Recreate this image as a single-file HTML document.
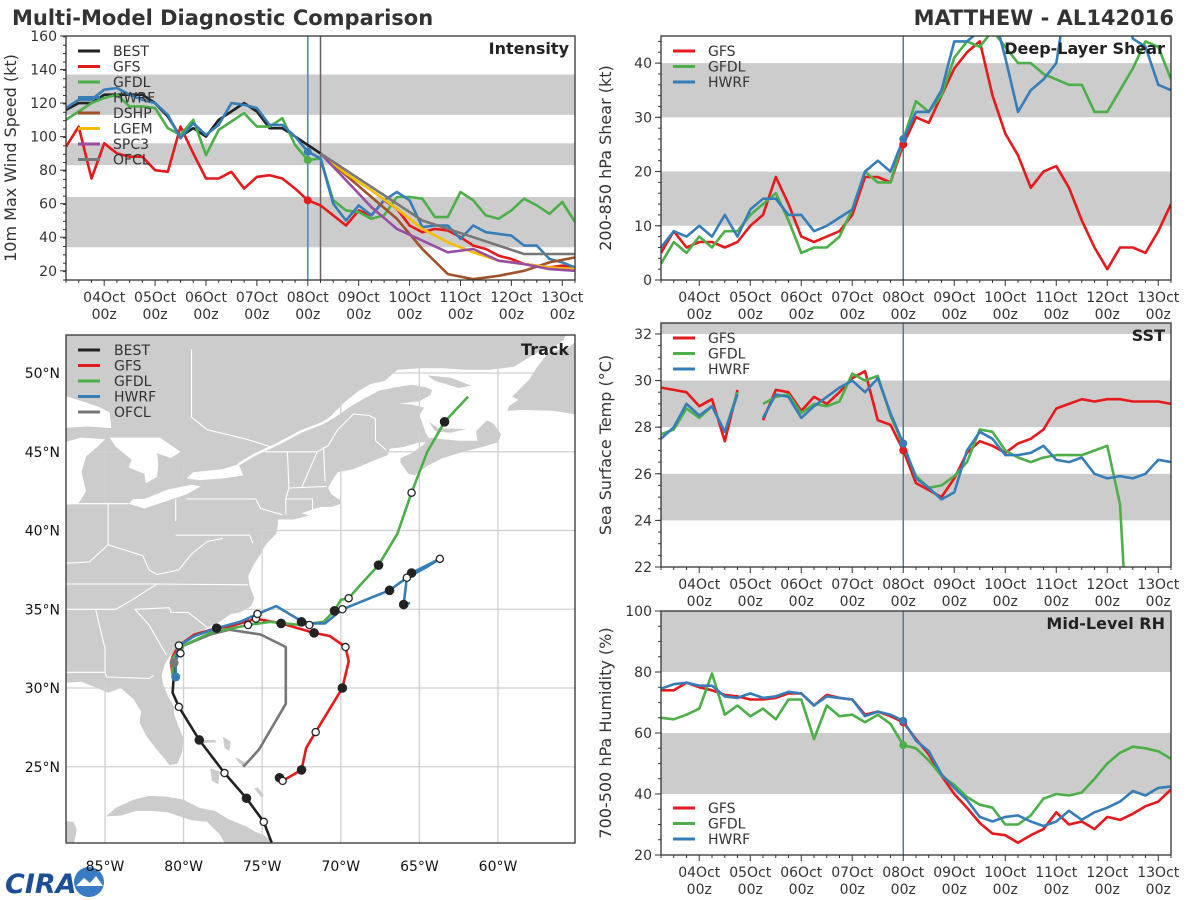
<!DOCTYPE html>
<html><head><meta charset="utf-8"><title>Multi-Model Diagnostic Comparison</title>
<style>
html,body{margin:0;padding:0;background:#fff;}
svg{display:block;font-family:"DejaVu Sans","Liberation Sans",sans-serif;}
</style></head>
<body>
<svg id="chart" width="1200" height="900" viewBox="0 0 1200 900" xmlns="http://www.w3.org/2000/svg">
<text x="12" y="25" font-size="21" font-weight="bold" fill="#333">Multi-Model Diagnostic Comparison</text>
<text x="1174" y="25" font-size="21" font-weight="bold" fill="#333" text-anchor="end">MATTHEW - AL142016</text>
<g>
<text x="5" y="893" font-size="27" font-weight="bold" font-style="italic" fill="#1d4f96">CIRA</text>
<circle cx="89" cy="882" r="15" fill="#3a7cc4"/>
<path d="M76 886 L84 878 L90 883 L96 876 L103 886 Z" fill="#fff"/>
</g>
</svg>
<script>
// ---------------- DATA ----------------
const dayLabels=['04Oct','05Oct','06Oct','07Oct','08Oct','09Oct','10Oct','11Oct','12Oct','13Oct'];
const intBest=[116,120,120,125,125,125,125,120,112,100,105,100,110,115,120,115,105,105,100,95,90];
const intGfs=[94,106,75,96,90,88,88,80,79,106,90,75,75,79,69,76,77,75,69,62,59,53,47,56,53,62,57,47,43,45,44,40,35,33,29,27,24,23,22,23,22];
const intGfdl=[110,115,120,123,125,118,118,117,105,101,110,89,104,109,114,106,106,111,95,86,87,62,56,55,51,53,64,64,63,52,52,67,62,53,51,56,63,59,54,61,49];
const intHwrf=[117,122,122,128,129,125,122,120,113,99,108,101,107,120,119,117,107,107,100,91,87,60,50,59,53,62,67,62,46,47,47,39,47,43,42,41,35,35,27,25,22];
const intDshp=[90,77,64,51,33,18,15,17,20,25,28];
const intLgem=[90,78,68,57,45,37,31,26,24,22,21];
const intSpc3=[90,74,58,45,38,31,33,26,24,21,20];
const intOfcl=[90,80,70,60,50,45,40,35,30,30,30];
const intBands=[[34,64],[83,96],[113,137]];
const intTicks=[20,40,60,80,100,120,140,160];

const shrGfs=[5,9,6,7,7,6,7,10,12,19,14,8,7,8,9,12,19,19,18,25,30,29,34,39,42,44,34,27,23,17,20,21,17,11,6,2,6,6,5,9,14];
const shrGfdl=[3,7,5,8,6,9,9,12,14,16,11,5,6,6,8,13,20,18,18,26,33,31,34,41,44,43,46,43,40,40,38,37,36,36,31,31,35,39,44,43,37];
const shrHwrf=[6,9,8,10,8,12,8,13,15,15,12,12,9,10,11.5,13,20,22,20,26,31,31,35,44,44,46,50,41,31,35,37,40,55,55,55,55,55,44.5,43,36,35];
const shrBands=[[10,20],[30,40]];
const shrTicks=[0,10,20,30,40];

const sstGfs=[29.7,29.6,29.5,28.9,29.2,27.4,29.6,null,28.3,29.6,29.5,28.7,29.3,29.0,29.5,30.1,30.4,28.3,28.1,27.0,25.6,25.3,25.0,25.8,26.9,27.4,27.2,26.9,27.3,27.5,27.9,28.8,29.0,29.2,29.1,29.2,29.2,29.1,29.1,29.1,29.0];
const sstGfdl=[27.7,27.9,28.8,28.4,28.9,27.8,29.5,null,29.0,29.3,29.4,28.6,29.0,28.9,29.1,30.3,30.0,30.2,28.5,27.2,25.9,25.4,25.5,25.9,26.5,27.9,27.8,27.0,26.7,26.5,26.7,26.8,26.8,26.8,27.0,27.2,24.7,15,null,null,null];
const sstHwrf=[27.5,28.0,29.0,28.5,28.9,27.8,29.4,null,28.4,29.4,29.3,28.4,28.9,29.3,29.7,30.0,29.5,30.1,28.6,27.3,25.8,25.4,24.9,25.2,27.0,27.8,27.5,26.8,26.8,26.9,27.2,26.6,26.5,26.7,26.0,25.8,25.9,25.8,26.0,26.6,26.5];
const sstBands=[[24,26],[28,30],[32,33]];
const sstTicks=[22,24,26,28,30,32];

const rhGfs=[74,74,76.5,75,74,72.5,72,71,71,71.5,73,73,69,72.5,71.5,71,66,67,65.5,63.5,58,53,46,40,35.5,30.5,27,26.5,24,26.5,28.5,34,30,31,28.5,32.5,31.5,33.5,36,37.5,41.5];
const rhGfdl=[65,64.5,66,68,79.5,66,69,65.5,68,64.5,71,71,58,69,65.5,66,63.5,66,63,56,55,51,46,43,39,36.5,35.5,30,30,33,38.5,40,39.5,40.5,45,50,53.5,55.5,55,54,51.5];
const rhHwrf=[74.5,76,76.5,75.5,75.5,72,71.5,73,71.5,72,73.5,73,69,72,71.5,71,65.5,67,66,64,57.5,54,46.5,42,38,32.5,31,32.5,33,31,29.5,31,34.5,31.5,34,35.5,37.5,41,39.5,42,42.5];
const rhBands=[[40,60],[80,100]];
const rhTicks=[20,40,60,80,100];

const trkBest=[[-74.4,20.2],[-74.9,21.5],[-76.0,23.0],[-77.4,24.6],[-79.0,26.7],[-80.3,28.8],[-80.7,29.7],[-80.65,30.4],[-80.6,31.6]];
const trkGfs=[[-74.1,24.5],[-73.9,24.3],[-73.7,24.1],[-72.5,24.8],[-72.2,26.2],[-71.6,27.2],[-69.9,30.0],[-69.5,31.7],[-69.7,32.6],[-70.7,33.3],[-71.7,33.5],[-73.8,34.1],[-75.4,34.4],[-77.1,33.9],[-77.9,33.8],[-79.3,33.4],[-80.3,32.7],[-80.7,32.0],[-80.8,31.6],[-80.7,30.9]];
const trkGfdl=[[-80.7,30.7],[-80.7,31.9],[-80.0,32.7],[-78.3,33.5],[-75.9,34.0],[-74.5,34.2],[-72.6,34.0],[-71.1,34.2],[-70.4,34.9],[-70.0,35.6],[-69.5,35.7],[-68.8,36.5],[-67.6,37.8],[-66.4,39.8],[-65.5,42.4],[-64.5,45.0],[-63.4,46.9],[-61.9,48.5]];
const trkHwrf=[[-80.5,30.7],[-80.5,31.8],[-80.3,32.7],[-79.3,33.3],[-77.9,33.8],[-76.4,34.2],[-75.3,34.7],[-74.1,35.2],[-72.6,34.3],[-71.9,34.1],[-71.0,34.1],[-69.9,35.0],[-66.9,36.2],[-65.8,37.0],[-65.5,37.3],[-64.3,37.9],[-63.7,38.2],[-64.5,37.7],[-65.8,37.0],[-66.0,35.3],[-65.6,35.4]];
const trkOfcl=[[-80.6,31.6],[-80.0,32.7],[-78.3,33.4],[-77.1,33.7],[-75.1,33.4],[-73.5,32.6],[-73.5,29.0],[-75.2,26.1],[-76.2,25.0]];
const trkFilled=[[-79.0,26.7],[-76.0,23.0],[-77.9,33.8],[-73.9,24.3],[-72.5,24.8],[-69.9,30.0],[-71.7,33.5],[-73.8,34.1],[-72.5,34.2],[-70.4,34.9],[-67.6,37.8],[-63.4,46.9],[-66.9,36.2],[-65.5,37.3],[-66.0,35.3]];
const trkOpen=[[-80.3,28.8],[-77.4,24.6],[-74.9,21.5],[-73.7,24.1],[-71.6,27.2],[-69.7,32.6],[-72.0,34.0],[-75.9,34.0],[-75.4,34.4],[-75.3,34.7],[-80.3,32.7],[-80.2,32.2],[-69.9,35.0],[-69.5,35.7],[-65.5,42.4],[-65.8,37.0],[-63.7,38.2]];
const lonTicks=[-85,-80,-75,-70,-65,-60];
const latTicks=[25,30,35,40,45,50];

// ---------------- HELPERS ----------------
const NS='http://www.w3.org/2000/svg';
const svg=document.getElementById('chart');
function mk(tag,attrs,parent){const e=document.createElementNS(NS,tag);for(const k in attrs)e.setAttribute(k,attrs[k]);(parent||svg).appendChild(e);return e;}
const C={GFS:'#e41a1c',GFDL:'#4daf4a',HWRF:'#377eb8',BEST:'#222222',DSHP:'#a0522d',LGEM:'#f5be00',SPC3:'#984ea3',OFCL:'#777777'};
let clipN=0;

function tsPanel(key,fr,ymin,ymax,bands,ticks,minorStep,ylabel,title,series,markers,legend,legendBottom,vlines){
  const g=mk('g',{});
  
  
  const X=i=>fr.x0+i/40*(fr.x1-fr.x0);
  const Y=v=>fr.y1-(v-ymin)/(ymax-ymin)*(fr.y1-fr.y0);
  const cid='clip'+(clipN++);
  const cp=mk('clipPath',{id:cid},g);
  mk('rect',{x:fr.x0,y:fr.y0,width:fr.x1-fr.x0,height:fr.y1-fr.y0},cp);
  bands.forEach(b=>{
    const top=Math.min(b[1],ymax);
    const r=mk('rect',{x:fr.x0,y:Y(top),width:fr.x1-fr.x0,height:Y(b[0])-Y(top),fill:'#cccccc'},g);
    
    
  });
  vlines.forEach(v=>{
    const l=mk('line',{x1:X(v.i),x2:X(v.i),y1:fr.y0,y2:fr.y1,stroke:v.c,'stroke-width':1.5},g);
    
    
  });
  const lg=mk('g',{'clip-path':'url(#'+cid+')'},g);
  series.forEach(s=>{
    let d='',pen=false;
    s.v.forEach((val,k)=>{
      if(val===null){pen=false;return;}
      const i=s.start+k*s.step;
      d+=(pen?'L':'M')+X(i).toFixed(1)+' '+Y(val).toFixed(1)+' ';pen=true;
    });
    const p=mk('path',{d:d,fill:'none',stroke:C[s.n],'stroke-width':2.6,'stroke-linejoin':'round'},lg);
    
    
  });
  markers.forEach(m=>{
    const c=mk('circle',{cx:X(19),cy:Y(m.v[19]),r:4,fill:C[m.n]},lg);
    
    
  });
  const fb=mk('rect',{x:fr.x0,y:fr.y0,width:fr.x1-fr.x0,height:fr.y1-fr.y0,fill:'none',stroke:'#333','stroke-width':1.3},g);
  
  
  for(let v=ymin;v<=ymax+1e-6;v+=minorStep){
    const mt=mk('line',{x1:fr.x0-3,x2:fr.x0,y1:Y(v),y2:Y(v),stroke:'#333','stroke-width':1},g);
    
    
  }
  ticks.forEach(v=>{
    const t=mk('line',{x1:fr.x0-6,x2:fr.x0,y1:Y(v),y2:Y(v),stroke:'#333','stroke-width':1},g);
    
    
    const tx=mk('text',{x:fr.x0-9,y:Y(v)+5,'font-size':14,'text-anchor':'end',fill:'#333'},g);
    tx.textContent=v;
    
    
  });
  for(let i=0;i<=40;i++){
    const major=(i-3)%4===0;
    const t=mk('line',{x1:X(i),x2:X(i),y1:fr.y1,y2:fr.y1+(major?6:3),stroke:'#333','stroke-width':1},g);
    
    
  }
  dayLabels.forEach((lab,k)=>{
    const i=3+4*k;
    const t1=mk('text',{x:X(i),y:fr.y1+22,'font-size':14,'text-anchor':'middle',fill:'#333'},g);
    t1.textContent=lab;
    
    
    const t2=mk('text',{x:X(i),y:fr.y1+39,'font-size':14,'text-anchor':'middle',fill:'#333'},g);
    t2.textContent='00z';
    
    
  });
  const yl=mk('text',{x:0,y:0,'font-size':16,'text-anchor':'middle',fill:'#333',transform:'translate('+(fr.x0-50)+','+((fr.y0+fr.y1)/2)+') rotate(-90)'},g);
  yl.textContent=ylabel;
  
  
  const tt=mk('text',{x:fr.x1-6,y:fr.y0+18,'font-size':16,'font-weight':'bold','text-anchor':'end',fill:'#222'},g);
  tt.textContent=title;
  
  
  legend.forEach((n,k)=>{
    const ly=legendBottom?(fr.y1-47+k*15.5):(fr.y0+15+k*15.5);
    const l=mk('line',{x1:fr.x0+12,x2:fr.x0+34,y1:ly,y2:ly,stroke:C[n],'stroke-width':3},g);
    
    
    const t=mk('text',{x:fr.x0+47,y:ly+5,'font-size':14,fill:'#333'},g);
    t.textContent=n;
    
    
  });
}

tsPanel('intensity',{x0:66,x1:575,y0:36,y1:280},14.5,160,intBands,intTicks,5,'10m Max Wind Speed (kt)','Intensity',
 [{n:'BEST',v:intBest,start:0,step:1},{n:'GFS',v:intGfs,start:0,step:1},{n:'GFDL',v:intGfdl,start:0,step:1},{n:'HWRF',v:intHwrf,start:0,step:1},
  {n:'DSHP',v:intDshp,start:20,step:2},{n:'LGEM',v:intLgem,start:20,step:2},{n:'SPC3',v:intSpc3,start:20,step:2},{n:'OFCL',v:intOfcl,start:20,step:2}],
 [{n:'GFS',v:intGfs},{n:'GFDL',v:intGfdl},{n:'HWRF',v:intHwrf}],
 ['BEST','GFS','GFDL','HWRF','DSHP','LGEM','SPC3','OFCL'],false,
 [{i:19,c:'#4a86b8'},{i:20,c:'#6d6060'}]);
tsPanel('shear',{x0:661,x1:1171,y0:36,y1:280},0,45,shrBands,shrTicks,2,'200-850 hPa Shear (kt)','Deep-Layer Shear',
 [{n:'GFS',v:shrGfs,start:0,step:1},{n:'GFDL',v:shrGfdl,start:0,step:1},{n:'HWRF',v:shrHwrf,start:0,step:1}],
 [{n:'GFS',v:shrGfs},{n:'HWRF',v:shrHwrf}],['GFS','GFDL','HWRF'],false,[{i:19,c:'#5a7890'}]);
tsPanel('sst',{x0:661,x1:1171,y0:323,y1:567},22,32.47,sstBands,sstTicks,0.5,'Sea Surface Temp (°C)','SST',
 [{n:'GFS',v:sstGfs,start:0,step:1},{n:'GFDL',v:sstGfdl,start:0,step:1},{n:'HWRF',v:sstHwrf,start:0,step:1}],
 [{n:'GFS',v:sstGfs},{n:'HWRF',v:sstHwrf}],['GFS','GFDL','HWRF'],false,[{i:19,c:'#5a7890'}]);
tsPanel('rh',{x0:661,x1:1171,y0:611,y1:855},20,100,rhBands,rhTicks,5,'700-500 hPa Humidity (%)','Mid-Level RH',
 [{n:'GFS',v:rhGfs,start:0,step:1},{n:'GFDL',v:rhGfdl,start:0,step:1},{n:'HWRF',v:rhHwrf,start:0,step:1}],
 [{n:'GFS',v:rhGfs},{n:'GFDL',v:rhGfdl},{n:'HWRF',v:rhHwrf}],['GFS','GFDL','HWRF'],true,[{i:19,c:'#5a7890'}]);

// ---------------- TRACK MAP ----------------
(function(){
  const fr={x0:66,x1:575,y0:335,y1:843};
  const LX=lon=>105+(lon+85)*15.72;
  const LY=lat=>373+(50-lat)*15.75;
  const g=mk('g',{});
  
  
  const cp=mk('clipPath',{id:'trkclip'},g);
  mk('rect',{x:fr.x0,y:fr.y0,width:fr.x1-fr.x0,height:fr.y1-fr.y0},cp);
  const m=mk('g',{'clip-path':'url(#trkclip)'},g);
  const bg=mk('rect',{x:fr.x0,y:fr.y0,width:fr.x1-fr.x0,height:fr.y1-fr.y0,fill:'#cccccc'},m);
  
  
  const P=pts=>pts.map((p,k)=>(k?'L':'M')+LX(p[0]).toFixed(1)+' '+LY(p[1]).toFixed(1)).join(' ');
  const oceans=[
   [[-88,30.3],[-86.5,30.4],[-85.5,30.0],[-84.8,29.7],[-84.0,30.0],[-83.2,29.3],[-82.7,28.5],[-82.8,27.8],[-82.4,27.0],[-81.8,26.2],[-81.2,25.5],[-80.9,25.1],[-80.4,25.2],[-80.1,25.9],[-80.0,26.8],[-80.3,27.5],[-80.6,28.3],[-80.6,28.8],[-81.0,29.5],[-81.3,30.2],[-81.4,30.8],[-81.2,31.5],[-80.9,32.0],[-80.4,32.5],[-79.6,33.0],[-79.0,33.5],[-78.4,33.9],[-77.7,34.2],[-77.0,34.7],[-76.4,34.8],[-75.7,35.2],[-75.5,35.7],[-75.8,36.5],[-75.9,37.1],[-75.5,37.9],[-75.1,38.5],[-74.9,38.9],[-74.6,39.3],[-74.1,39.8],[-74.0,40.4],[-74.0,40.7],[-73.0,40.7],[-72.0,40.95],[-72.5,41.1],[-71.9,41.3],[-71.3,41.5],[-70.6,41.5],[-70.0,41.7],[-70.0,41.9],[-70.6,42.3],[-70.8,42.7],[-70.6,43.1],[-70.2,43.7],[-69.2,43.9],[-68.0,44.4],[-67.0,44.8],[-66.9,45.2],[-66.0,45.3],[-65.0,45.6],[-54,45.6],[-54,19],[-88,19]],
   [[-64.3,45.7],[-64.6,46.2],[-64.8,46.8],[-65.0,47.3],[-64.7,47.8],[-65.5,48.0],[-66.3,48.05],[-65.0,48.2],[-64.3,48.6],[-64.2,48.9],[-64.6,49.1],[-65.5,49.25],[-66.5,49.1],[-67.5,48.9],[-68.5,48.4],[-69.5,47.8],[-70.5,47.1],[-71.2,46.8],[-70.6,47.3],[-69.7,48.2],[-68.8,48.9],[-68.1,49.3],[-67.2,49.5],[-66.4,50.2],[-65,50.3],[-63.5,50.3],[-62,50.2],[-60.5,50.2],[-59,50.4],[-57.5,51.3],[-56.5,51.6],[-55.8,52.1],[-55.5,53],[-54,53],[-54,45.4],[-64.3,45.4]]];
  oceans.forEach(o=>{
    const op=mk('path',{d:P(o)+' Z',fill:'#fff'},m);
    
    
  });
  lonTicks.forEach(lon=>{
    const l=mk('line',{x1:LX(lon),x2:LX(lon),y1:fr.y0,y2:fr.y1,stroke:'#d0d0d0','stroke-width':1.3},m);
    
    
  });
  latTicks.forEach(lat=>{
    const l=mk('line',{x1:fr.x0,x2:fr.x1,y1:LY(lat),y2:LY(lat),stroke:'#d0d0d0','stroke-width':1.3},m);
    
    
  });
  const landOverlays=[
   [[-88,53],[-55.6,53],[-57.6,51.2],[-59,50.5],[-62,50.3],[-65,50.4],[-66.5,50.3],[-67.3,49.6],[-68.2,49.4],[-68.9,49.0],[-69.8,48.3],[-70.7,47.4],[-71.5,46.9],[-74,45.6],[-76.5,44.4],[-79.5,43.8],[-81,45.2],[-84,46.7],[-88,46.7]],
   [[-88,30.6],[-86,30.6],[-84.5,30.3],[-83.4,29.8],[-82.0,30.5],[-81.6,31.2],[-81.4,31.7],[-80.9,32.4],[-79.8,33.2],[-78.6,34.1],[-77.3,34.9],[-76.4,35.3],[-76.3,36.3],[-76.5,37.4],[-76.6,38.5],[-75.8,39.6],[-75.0,40.2],[-74.3,40.9],[-72.5,41.4],[-71.5,41.8],[-71.1,42.4],[-71.0,43.0],[-70.5,43.8],[-69.0,44.4],[-67.5,45.0],[-66.6,45.5],[-65.5,46.0],[-65.3,46.8],[-65.5,47.6],[-66.6,47.9],[-68.4,48.2],[-69.4,47.6],[-70.4,46.9],[-72.5,46.0],[-74.5,45.1],[-76.3,44.0],[-79.5,43.6],[-82.3,42.4],[-83.5,41.4],[-88,41.4]]];
  landOverlays.forEach(o=>{
    const lp=mk('path',{d:P(o)+' Z',fill:'#cccccc'},m);
    
    
  });
  const islands=[
   [[-66.2,44.3],[-65.7,43.6],[-65.3,43.5],[-64.5,44.1],[-63.5,44.6],[-62.2,45.0],[-61.0,45.3],[-60.0,45.6],[-59.8,46.1],[-60.3,46.8],[-60.7,47.0],[-61.4,46.3],[-61.3,45.7],[-62.5,45.7],[-63.5,45.8],[-64.3,45.9],[-64.8,45.4],[-65.5,44.9],[-66.2,44.6]],
   [[-64.4,46.9],[-63.8,46.5],[-62.5,46.45],[-62,46.45],[-63,46.2],[-64,46.3]],
   [[-64.5,49.85],[-63.0,49.7],[-61.7,49.2],[-62.5,49.05],[-64.0,49.5]],
   [[-59.4,47.6],[-58.4,47.65],[-56.5,47.6],[-54,47.2],[-54,53],[-55.5,51.6],[-56.8,51.3],[-57.5,50.4],[-58.0,49.6],[-58.6,49.0],[-59.1,48.5],[-58.7,48.3],[-59.3,47.9]],
   [[-84.95,21.85],[-84.3,22.4],[-83.2,22.9],[-82.2,23.15],[-81.0,23.1],[-80.0,22.9],[-79.0,22.4],[-78.0,22.2],[-77.2,21.7],[-76.0,21.2],[-75.5,20.9],[-74.8,20.6],[-74.2,20.1],[-77.3,20.0],[-77.7,20.7],[-78.5,21.5],[-79.5,21.6],[-81.0,22.1],[-82.0,22.2],[-83.0,22.2],[-84.0,21.9]],
   [[-88,21.6],[-87.0,21.5],[-86.8,21.0],[-87.0,20.0],[-88,20.0]],
   [[-78.3,24.9],[-77.7,24.7],[-77.8,23.9],[-78.2,24.1]],
   [[-79.0,26.7],[-78.0,26.7],[-77.9,26.55],[-78.8,26.5]],
   [[-77.5,26.9],[-77.0,26.6],[-77.1,26.0],[-77.4,26.2]],
   [[-76.7,25.6],[-76.1,25.3],[-76.2,25.0],[-76.6,25.4]],
   [[-75.5,23.6],[-75.0,23.0],[-74.9,23.2],[-75.3,23.7]]];
  islands.forEach(isl=>{
    const ip=mk('path',{d:P(isl)+' Z',fill:'#cccccc'},m);
    
    
  });
  const lakes=[
   [[-88,41.6],[-86.7,41.7],[-86.2,42.5],[-86.5,43.7],[-86.2,44.7],[-85.5,45.3],[-85,45.8],[-86.5,45.9],[-88,45.5]],
   [[-88,46.5],[-86,46.6],[-84.6,46.5],[-84.7,47.5],[-85.5,47.9],[-88,48.7]],
   [[-84.7,45.9],[-83.3,45.9],[-81.5,45.9],[-80.2,45.0],[-80.8,44.6],[-81.7,44.9],[-81.6,44.2],[-81.7,43.4],[-82.4,43.0],[-82.5,43.6],[-83.5,44.0],[-83.3,44.5],[-84.3,45.3]],
   [[-83.5,41.7],[-82.5,41.4],[-81,41.9],[-79.8,42.3],[-78.9,42.8],[-79.5,42.9],[-81,42.6],[-82.5,42.0],[-83.2,42.0]],
   [[-79.8,43.3],[-79,43.2],[-77.5,43.3],[-76.2,43.5],[-76.5,44.2],[-77.5,43.9],[-79.4,43.7]]];
  lakes.forEach(lk=>{
    const kp=mk('path',{d:P(lk)+' Z',fill:'#fff'},m);
    
    
  });
  const river=mk('path',{d:P([[-76.5,44.2],[-75.5,44.8],[-74.0,45.5],[-72.5,46.3],[-71.2,46.8],[-70.5,47.2]]),fill:'none',stroke:'#fff','stroke-width':2.5},m);
  
  
  const borders=[
   [[-88,31.0],[-85,31],[-84.9,30.7],[-82.2,30.6],[-81.9,30.8]],
   [[-85.6,35.0],[-85,32.5],[-85,31]],
   [[-88,35.0],[-84.3,35.0],[-83.1,35.7],[-81.7,36.6],[-75.9,36.55]],
   [[-83.1,35.0],[-80.9,35.1],[-80.8,34.8],[-79.7,34.8],[-78.5,33.85]],
   [[-83.1,35],[-82.2,34],[-81.1,32.1]],
   [[-88,36.6],[-81.7,36.6]],
   [[-88,37.9],[-86,38],[-84.8,39.1],[-82.6,38.4],[-82.2,37.5],[-81.7,37.2],[-80.3,37.5],[-79.5,38.5],[-78.5,39.3],[-77.5,39.5]],
   [[-84.8,39.1],[-84.8,41.7]],[[-88,41.7],[-83.5,41.7]],
   [[-80.5,40.6],[-80.5,42]],[[-79.8,42.0],[-75.4,42.0],[-75.1,41.4],[-73.7,41.0]],
   [[-80.5,39.7],[-75.8,39.7],[-75.6,39.2]],
   [[-73.5,41.0],[-73.5,42.0],[-73.3,42.7],[-73.4,45]],[[-72.5,42.7],[-71.5,45.0]],
   [[-73.5,42],[-71.8,42],[-71.8,41.3]],[[-73.3,42.7],[-70.9,42.8]],
   [[-74.8,45.0],[-71.5,45.0],[-70.8,45.4],[-70.2,46.4],[-69.2,47.4],[-68.2,47.3],[-67.8,47.1],[-67.8,45.7],[-67.1,45.1]],
   [[-71,43.1],[-71.1,45.3]],
   [[-79.5,51.5],[-79.5,47.2],[-78.5,46.4],[-76,45.8],[-74.4,45.3]]];
  borders.forEach(b=>{
    const bp=mk('path',{d:P(b),fill:'none',stroke:'#fff','stroke-width':1.1},m);
    
    
  });
  const tracks=[['OFCL',trkOfcl],['BEST',trkBest],['GFS',trkGfs],['GFDL',trkGfdl],['HWRF',trkHwrf]];
  tracks.forEach(t=>{
    const tp=mk('path',{d:P(t[1]),fill:'none',stroke:C[t[0]],'stroke-width':2.6,'stroke-linejoin':'round'},m);
    
    
  });
  trkFilled.forEach(p=>{
    const c=mk('circle',{cx:LX(p[0]),cy:LY(p[1]),r:4.3,fill:'#222',stroke:'#222','stroke-width':1},m);
    
    
  });
  trkOpen.forEach(p=>{
    const c=mk('circle',{cx:LX(p[0]),cy:LY(p[1]),r:3.6,fill:'#fff',stroke:'#222','stroke-width':1.3},m);
    
    
  });
  const d1=mk('circle',{cx:LX(trkOfcl[0][0]),cy:LY(trkOfcl[0][1]),r:4.5,fill:'#777'},m);
  
  
  const d2=mk('circle',{cx:LX(trkHwrf[0][0]),cy:LY(trkHwrf[0][1]),r:4.5,fill:C.HWRF},m);
  
  
  const fb=mk('rect',{x:fr.x0,y:fr.y0,width:fr.x1-fr.x0,height:fr.y1-fr.y0,fill:'none',stroke:'#333','stroke-width':1.3},g);
  
  
  lonTicks.forEach(lon=>{
    const t=mk('text',{x:LX(lon),y:871,'font-size':14,'text-anchor':'middle',fill:'#111'},g);
    t.textContent=Math.abs(lon)+'°W';
    
    
  });
  latTicks.forEach(lat=>{
    const t=mk('text',{x:60,y:LY(lat)+5,'font-size':14,'text-anchor':'end',fill:'#111'},g);
    t.textContent=lat+'°N';
    
    
  });
  const tt=mk('text',{x:569,y:355,'font-size':16,'font-weight':'bold','text-anchor':'end',fill:'#222'},g);
  tt.textContent='Track';
  
  
  ['BEST','GFS','GFDL','HWRF','OFCL'].forEach((n,k)=>{
    const ly=350+k*15.5;
    const l=mk('line',{x1:78,x2:100,y1:ly,y2:ly,stroke:C[n],'stroke-width':3},g);
    
    
    const t=mk('text',{x:114,y:ly+5,'font-size':14,fill:'#333'},g);
    t.textContent=n;
    
    
  });
})();
</script>
</body></html>
